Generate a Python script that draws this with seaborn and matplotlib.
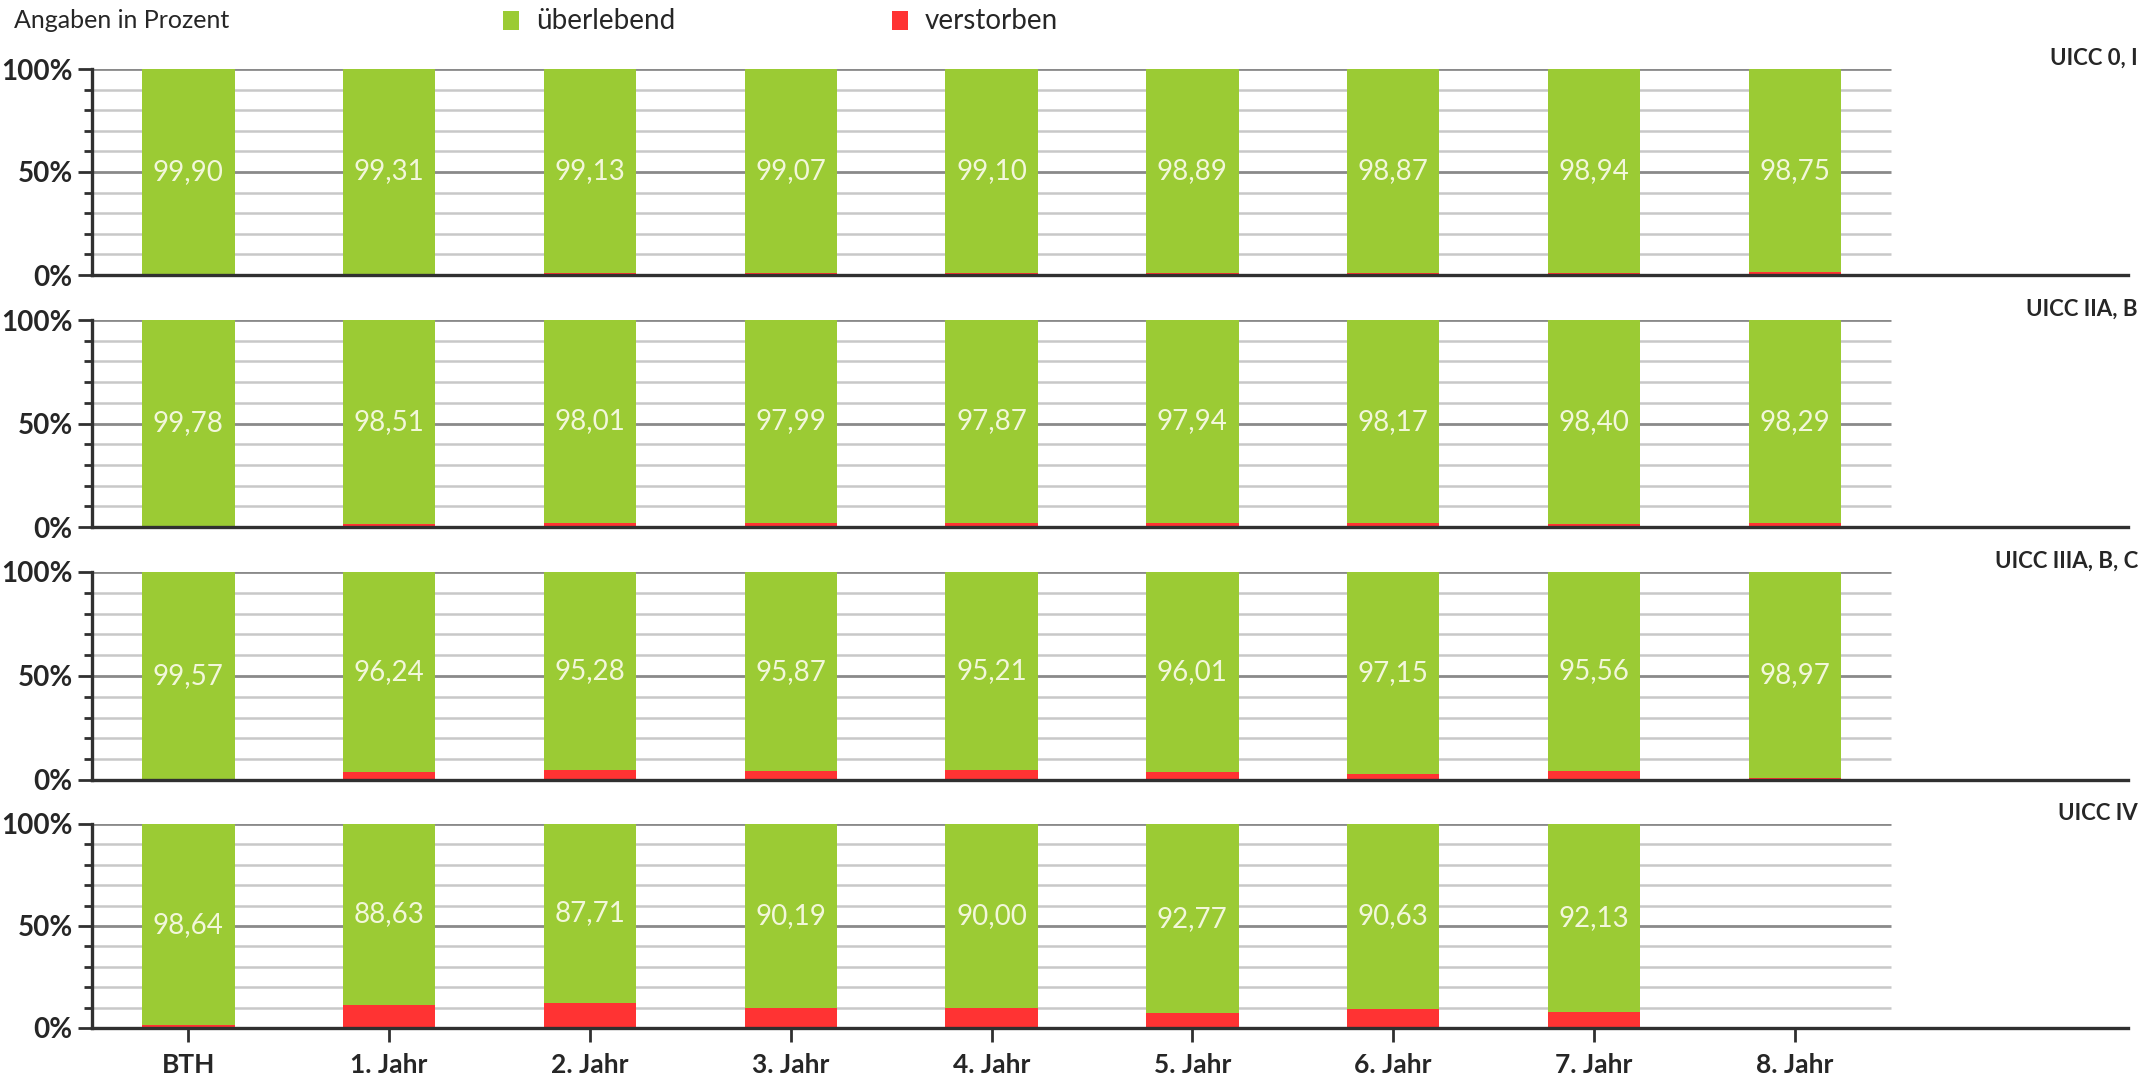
import numpy as np
import pandas as pd
import matplotlib
matplotlib.use("Agg")
import matplotlib.pyplot as plt
import seaborn as sns
from matplotlib.patches import Rectangle

categories = ["BTH", "1. Jahr", "2. Jahr", "3. Jahr", "4. Jahr", "5. Jahr", "6. Jahr", "7. Jahr", "8. Jahr"]
panels = ["UICC 0, I", "UICC IIA, B", "UICC IIIA, B, C", "UICC IV"]

surv_0_I = [99.90, 99.31, 99.13, 99.07, 99.10, 98.89, 98.87, 98.94, 98.75]
dead_0_I = [0.10, 0.69, 0.87, 0.93, 0.90, 1.11, 1.13, 1.06, 1.25]
surv_IIA_B = [99.78, 98.51, 98.01, 97.99, 97.87, 97.94, 98.17, 98.40, 98.29]
dead_IIA_B = [0.22, 1.49, 1.99, 2.01, 2.13, 2.06, 1.83, 1.60, 1.71]
surv_IIIA_C = [99.57, 96.24, 95.28, 95.87, 95.21, 96.01, 97.15, 95.56, 98.97]
dead_IIIA_C = [0.43, 3.76, 4.72, 4.13, 4.79, 3.99, 2.85, 4.44, 1.03]
surv_IV = [98.64, 88.63, 87.71, 90.19, 90.00, 92.77, 90.63, 92.13, np.nan]
dead_IV = [1.36, 11.37, 12.29, 9.81, 10.00, 7.23, 9.37, 7.87, np.nan]

survived = [surv_0_I, surv_IIA_B, surv_IIIA_C, surv_IV]
deceased = [dead_0_I, dead_IIA_B, dead_IIIA_C, dead_IV]

GREEN = "#9BCB34"
RED = "#FF3333"
TXT = "#262626"
AXC = "#303030"

sns.set_theme(style="white")
plt.rcParams["font.family"] = ["Lato", "DejaVu Sans"]

W, H = 2156, 1074
fig = plt.figure(figsize=(W / 100, H / 100), dpi=100)

# panel extents in pixels (top, bottom)
panel_px = [(69, 275), (320, 527), (572, 780), (824, 1028)]
left_px, right_px = 92, 2128

xmin, xmax = -0.48, 9.66
grid_end = 8.48

for i, (name, s, d) in enumerate(zip(panels, survived, deceased)):
    top, bot = panel_px[i]
    ax = fig.add_axes([left_px / W, 1 - bot / H, (right_px - left_px) / W, (bot - top) / H])
    df = pd.DataFrame({"Kategorie": categories, "survived": s, "deceased": d})
    df["total"] = df["survived"] + df["deceased"]

    # grid lines
    for v in range(10, 101, 10):
        major = v in (50, 100)
        ax.hlines(v, xmin, grid_end, colors="#8a8a8a" if major else "#c8c8c8",
                  linewidth=2.0 if major else 1.8, zorder=0)

    sns.barplot(data=df, x="Kategorie", y="total", order=categories, color=GREEN,
                width=0.46, saturation=1, linewidth=0, ax=ax, zorder=2)
    sns.barplot(data=df, x="Kategorie", y="deceased", order=categories, color=RED,
                width=0.46, saturation=1, linewidth=0, ax=ax, zorder=3)

    for j, (sv, dv) in enumerate(zip(s, d)):
        if np.isnan(sv):
            continue
        ax.text(j, dv + sv / 2, f"{sv:.2f}".replace(".", ","), ha="center", va="center",
                color="#F2F7DA", fontsize=20, zorder=5)

    ax.set_xlim(xmin, xmax)
    ax.set_ylim(0, 100)
    ax.set_xlabel("")
    ax.set_ylabel("")
    ax.set_yticks([0, 50, 100])
    ax.set_yticklabels(["0%", "50%", "100%"], fontsize=20, fontweight="bold", color=TXT)
    ax.set_yticks(range(0, 101, 10), minor=True)
    ax.tick_params(axis="y", which="major", length=10, width=2, color=AXC, left=True, pad=4)
    ax.tick_params(axis="y", which="minor", length=6, width=2, color=AXC, left=True)
    for sp in ["top", "right"]:
        ax.spines[sp].set_visible(False)
    for sp in ["left", "bottom"]:
        ax.spines[sp].set_color(AXC)
        ax.spines[sp].set_linewidth(2.4)
        ax.spines[sp].set_zorder(10)
    if i < 3:
        ax.set_xticks([])
    else:
        ax.set_xticks(range(len(categories)))
        ax.set_xticklabels(categories, fontsize=19, fontweight="bold", color=TXT)
        ax.tick_params(axis="x", length=10, width=2, color=AXC, bottom=True, pad=8)
    ax.patch.set_alpha(0)

    fig.text(2138 / W, 1 - (top - 11) / H, name, ha="right", va="center",
             fontsize=16, fontweight="bold", color=TXT)

fig.text(14 / W, 1 - 21 / H, "Angaben in Prozent", ha="left", va="center", fontsize=18, color=TXT)

# legend
for x0, col, lab in [(503, GREEN, "überlebend"), (892, RED, "verstorben")]:
    fig.patches.append(Rectangle((x0 / W, 1 - 30 / H), 16 / W, 19 / H, transform=fig.transFigure,
                                 facecolor=col, edgecolor="none"))
    fig.text((x0 + 33) / W, 1 - 21 / H, lab, ha="left", va="center", fontsize=20, color=TXT)

fig.savefig("out.png", dpi=100)
